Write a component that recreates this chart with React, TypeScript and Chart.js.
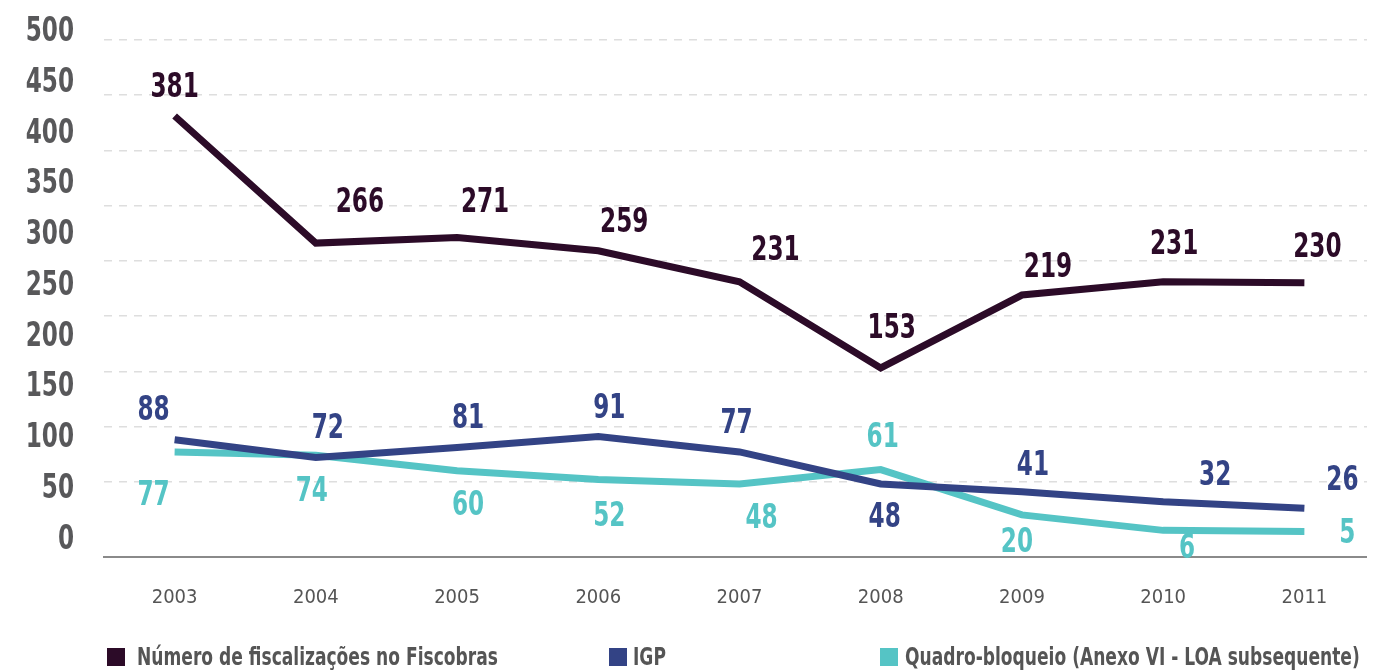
import React, { useEffect, useRef } from "react";
import { Chart, registerables } from "chart.js";

Chart.register(...registerables);

const years = ["2003", "2004", "2005", "2006", "2007", "2008", "2009", "2010", "2011"];
const fiscobras = [381, 266, 271, 259, 231, 153, 219, 231, 230];
const igp = [88, 72, 81, 91, 77, 48, 41, 32, 26];
const quadro = [77, 74, 60, 52, 48, 61, 20, 6, 5];
const axisLabels = [0, 50, 100, 150, 200, 250, 300, 350, 400, 450, 500];
const gridValues = [50, 100, 150, 200, 250, 300, 350, 400, 450];

const seriesNames = [
  "Número de fiscalizações no Fiscobras",
  "IGP",
  "Quadro-bloqueio (Anexo VI - LOA subsequente)",
];
const colors = ["#2c0b28", "#334385", "#55c4c5"];

// label offsets (dx, dy) relative to each point
const fiscobrasOff = [[0, -28], [44, -40], [28, -34], [26, -27], [36, -30], [11, -39], [26, -27], [11, -36], [13, -34]];
const igpOff = [[-21, -28], [12, -28], [11, -28], [11, -27], [-3, -27], [4, 34], [11, -25], [52, -25], [38, -27]];
const quadroOff = [[-21, 45], [-4, 37], [11, 36], [11, 38], [22, 35], [2, -31], [-5, 29], [24, 19], [43, 3]];
const offsets = [fiscobrasOff, igpOff, quadroOff];

const FONT = "'DejaVu Sans Condensed', 'DejaVu Sans', sans-serif";
const SX = 0.78;

function drawNarrow(ctx: any, text: string, x: number, y: number, align: string) {
  ctx.save();
  ctx.translate(x, y);
  ctx.scale(SX, 1);
  ctx.textAlign = align;
  ctx.fillText(text, 0, 0);
  ctx.restore();
}

const labelPlugin = {
  id: "customLabels",
  afterDraw(chart: any) {
    const ctx = chart.ctx;
    ctx.save();
    ctx.font = `bold 33px ${FONT}`;
    ctx.textBaseline = "middle";
    // y axis labels
    const yl = chart.scales.yl;
    ctx.fillStyle = "#58585a";
    axisLabels.forEach((v) => {
      drawNarrow(ctx, String(v), chart.chartArea.left - 30, yl.getPixelForValue(v), "right");
    });
    // point labels
    chart.data.datasets.forEach((ds: any, i: number) => {
      const meta = chart.getDatasetMeta(i);
      ctx.fillStyle = colors[i];
      meta.data.forEach((pt: any, j: number) => {
        const [dx, dy] = offsets[i][j];
        drawNarrow(ctx, String(ds.data[j]), pt.x + dx, pt.y + dy, "center");
      });
    });
    ctx.restore();
  },
};

export default function App() {
  const ref = useRef<HTMLCanvasElement>(null);

  useEffect(() => {
    document.documentElement.style.overflow = "hidden";
    document.body.style.overflow = "hidden";
    const chart = new Chart(ref.current!, {
      type: "line",
      data: {
        labels: years,
        datasets: [
          { label: seriesNames[0], data: fiscobras, borderColor: colors[0], backgroundColor: colors[0] },
          { label: seriesNames[1], data: igp, borderColor: colors[1], backgroundColor: colors[1] },
          { label: seriesNames[2], data: quadro, borderColor: colors[2], backgroundColor: colors[2] },
        ].map((d) => ({
          ...d,
          yAxisID: "y",
          borderWidth: 7,
          pointRadius: 0,
          tension: 0,
          borderJoinStyle: "miter" as const,
          borderCapStyle: "butt" as const,
        })),
      },
      options: {
        animation: false,
        responsive: true,
        maintainAspectRatio: false,
        layout: { padding: { top: 12, bottom: 51, left: 0, right: 0 } },
        plugins: { legend: { display: false }, tooltip: { enabled: false } },
        scales: {
          x: {
            offset: true,
            grid: { display: false },
            border: { display: true, color: "#8a8a8a", width: 2 },
            ticks: {
              color: "#555555",
              font: { family: FONT, size: 20 },
              padding: 21,
            },
            afterFit: (s: any) => {
              s.height = 55;
            },
          },
          yl: {
            position: "left",
            min: -16.75,
            max: 512.3,
            grid: { display: false, drawTicks: false },
            border: { display: false },
            ticks: { display: false },
            afterBuildTicks: (s: any) => {
              s.ticks = axisLabels.map((v) => ({ value: v }));
            },
            afterFit: (s: any) => {
              s.width = 96;
              s.paddingTop = 0;
              s.paddingBottom = 0;
            },
          },
          y: {
            position: "left",
            min: -18.1,
            max: 467.9,
            grid: { color: "#dedede", lineWidth: 1.5, drawTicks: false },
            border: { display: false, dash: [8, 7] },
            ticks: { display: false },
            afterBuildTicks: (s: any) => {
              s.ticks = gridValues.map((v) => ({ value: v }));
            },
            afterFit: (s: any) => {
              s.width = 0;
              s.paddingTop = 0;
              s.paddingBottom = 0;
            },
          },
        },
      } as any,
      plugins: [labelPlugin],
    });
    return () => chart.destroy();
  }, []);

  const legendItems = [
    { x: 99, textX: 129 },
    { x: 601, textX: 625 },
    { x: 872, textX: 897 },
  ];

  return (
    <div style={{ position: "relative", width: 1367, height: 663 }}>
      <div style={{ position: "absolute", left: 0, top: 0, width: 1367, height: 655 }}>
        <canvas ref={ref} />
      </div>
      {legendItems.map((it, i) => (
        <React.Fragment key={i}>
          <div
            style={{
              position: "absolute",
              left: it.x,
              top: 640,
              width: 18,
              height: 18,
              background: colors[i],
            }}
          />
          <div
            style={{
              position: "absolute",
              left: it.textX,
              top: 635,
              lineHeight: "28px",
              fontFamily: FONT,
              fontWeight: "bold",
              fontSize: 25,
              color: "#555555",
              whiteSpace: "nowrap",
              transform: "scaleX(0.76)",
              transformOrigin: "left center",
            }}
          >
            {seriesNames[i]}
          </div>
        </React.Fragment>
      ))}
    </div>
  );
}
